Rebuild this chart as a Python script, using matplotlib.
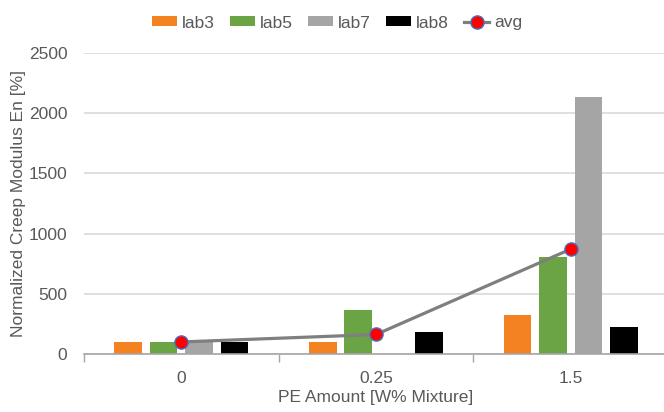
import numpy as np
import matplotlib
matplotlib.use("Agg")
import matplotlib.pyplot as plt
from matplotlib.ticker import FixedLocator

plt.rcParams['font.family'] = ['Liberation Sans', 'DejaVu Sans']

# data
categories = ["0", "0.25", "1.5"]
lab3 = [100, 99, 321]
lab5 = [100, 365, 808]
lab7 = [100, 0, 2133]
lab8 = [100, 185, 222]
avg = [100, 162, 871]

series = [("lab3", lab3, "#F58220"),
          ("lab5", lab5, "#6AA444"),
          ("lab7", lab7, "#A5A5A5"),
          ("lab8", lab8, "#000000")]

txt = "#595959"

fig = plt.figure(figsize=(6.64, 4.12), dpi=100)
ax = fig.add_axes([84/664, 58/412, 584/664, 301/412])

x = np.arange(len(categories))
pitch = 0.182
width = 0.142
handles = []
for i, (name, vals, col) in enumerate(series):
    b = ax.bar(x + (i - 1.5) * pitch, vals, width, color=col, label=name, zorder=2)
    handles.append(b)

ln, = ax.plot(x, avg, color="#7F7F7F", lw=2.3, marker="o", markersize=9.5,
              markerfacecolor="#FF0000", markeredgecolor="#4472C4",
              markeredgewidth=1.0, label="avg", zorder=3)
handles.append(ln)

ax.set_xlim(-0.5, 2.5)
ax.set_ylim(0, 2500)
ax.set_yticks(range(0, 2501, 500))
ax.set_xticks(x)
ax.set_xticklabels(categories)
ax.xaxis.set_minor_locator(FixedLocator([-0.5, 0.5, 1.5]))
ax.tick_params(axis="x", which="major", length=0, pad=12, labelsize=12.5, labelcolor=txt)
ax.tick_params(axis="x", which="minor", length=6, width=1, color="#A6A6A6")
ax.tick_params(axis="y", length=0, pad=12, labelsize=12.5, labelcolor=txt)

ax.grid(axis="y", color="#D9D9D9", lw=1.2, zorder=0)
ax.set_axisbelow(True)
for s in ["top", "right", "left"]:
    ax.spines[s].set_visible(False)
ax.spines["bottom"].set_color("#A6A6A6")
ax.spines["bottom"].set_linewidth(1.2)

ax.set_xlabel("PE Amount [W% Mixture]", fontsize=12.5, color=txt)
ax.xaxis.set_label_coords(0.5, -0.118)
ax.set_ylabel("Normalized Creep Modulus En [%]", fontsize=12.5, color=txt)
ax.yaxis.set_label_coords(-(84 - 26) / 584, 0.5)

fig.legend(handles=handles, loc="center", bbox_to_anchor=(337/664, 1 - 23/412),
           ncol=5, frameon=False, fontsize=12.5, labelcolor=txt, handlelength=1.45,
           handleheight=0.5, handletextpad=0.25, columnspacing=0.9)

fig.savefig("out.png", dpi=100)
